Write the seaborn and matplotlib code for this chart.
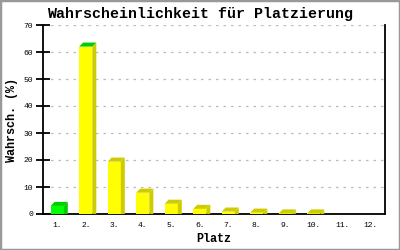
import matplotlib
matplotlib.use("Agg")
import matplotlib.pyplot as plt
import seaborn as sns
import pandas as pd
from matplotlib.patches import Polygon, Rectangle

places = ["1.", "2.", "3.", "4.", "5.", "6.", "7.", "8.", "9.", "10.", "11.", "12."]
probs = [3.0, 62.0, 19.4, 7.9, 3.8, 1.9, 0.9, 0.5, 0.2, 0.2, 0.0, 0.0]
front_colors = ["#00ff00"] + ["#ffff00"] * 11
side_colors = ["#00cc00"] + ["#cccc00"] * 11
top_colors = ["#00cc00", "#00cc00"] + ["#cccc00"] * 10

sns.set_theme(style="white")
plt.rcParams["font.family"] = ["Liberation Mono", "DejaVu Sans Mono"]
plt.rcParams["text.color"] = "black"
plt.rcParams["axes.labelcolor"] = "black"

df = pd.DataFrame({"Platz": places, "p": probs})
fig = plt.figure(figsize=(4, 2.5), dpi=100)
ax = fig.add_axes([0.1075, 0.144, 0.855, 0.756])
sns.barplot(data=df, x="Platz", y="p", hue="Platz", palette=front_colors,
            legend=False, width=0.46, saturation=1, ax=ax, zorder=3,
            linewidth=0)

dx, dy = 0.14, 1.5
for i, p in enumerate(ax.patches[:len(places)]):
    h = p.get_height()
    if h <= 0:
        continue
    x0 = p.get_x()
    x1 = x0 + p.get_width()
    ax.add_patch(Polygon([(x1, 0), (x1 + dx, 0), (x1 + dx, h + dy), (x1, h)],
                         closed=True, facecolor=side_colors[i], lw=0, zorder=3))
    ax.add_patch(Polygon([(x0, h), (x0 + dx, h + dy), (x1 + dx, h + dy), (x1, h)],
                         closed=True, facecolor=top_colors[i], lw=0, zorder=3))

ax.set_xlim(-0.5, 11.5)
ax.set_ylim(0, 70)
ax.set_yticks(range(0, 71, 10))
ax.yaxis.grid(True, color="#bbbbbb", linestyle=(0, (2, 4)), linewidth=0.9)
ax.set_axisbelow(True)
for s in ["left", "bottom", "right"]:
    ax.spines[s].set_visible(True)
    ax.spines[s].set_color("black")
    ax.spines[s].set_linewidth(1.3)
ax.spines["top"].set_visible(False)
ax.tick_params(axis="y", direction="inout", length=10, width=1.3, labelsize=5.8,
               left=True, pad=2, colors="black")
ax.tick_params(axis="x", length=0, labelsize=5.8, pad=6, colors="black")
ax.set_xlabel("Platz", fontsize=8.5, fontweight="bold", labelpad=3)
ax.set_ylabel("Wahrsch. (%)", fontsize=8.5, fontweight="bold")
ax.yaxis.set_label_coords(-0.072, 0.5)
fig.text(0.5, 0.945, "Wahrscheinlichkeit für Platzierung", ha="center", va="center",
         fontsize=10.8, fontweight="bold")
fig.patches.append(Rectangle((0, 0), 1, 1, transform=fig.transFigure, fill=False,
                             edgecolor="#999999", linewidth=2.5))
fig.savefig("out.png", dpi=100, facecolor="white")
